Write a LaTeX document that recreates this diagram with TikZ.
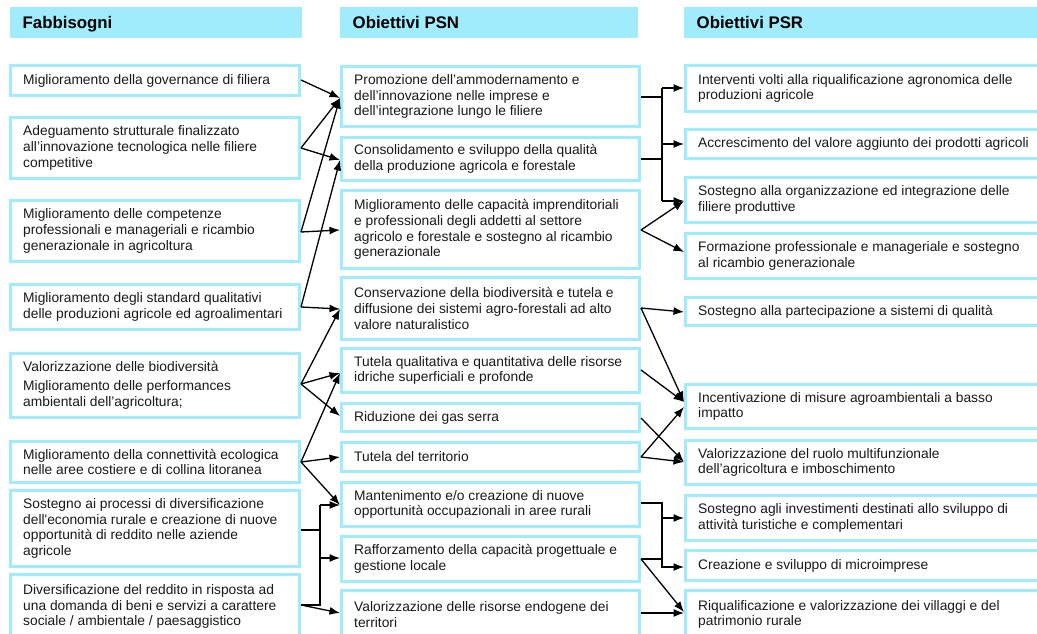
\documentclass[tikz,border=0pt]{standalone}
\usepackage{fontspec}
\setmainfont{Liberation Sans}
\usetikzlibrary{arrows.meta,calc}
\definecolor{cy}{RGB}{160,236,252}
\definecolor{tx}{RGB}{25,25,25}
\newcommand\mkbox[6]{%
  \node[box, minimum width={#4-#2-3}, minimum height={#5-#3-3}] (#1) at ({(#2+#4)/2},{(#3+#5)/2}) {};
  \node[txt] (#1t) at ([xshift=14pt]#1.west) {#6};
}
\newcommand\mkhdr[6]{%
  \node[hdr, minimum width={#4-#2}, minimum height={#5-#3}] (#1) at ({(#2+#4)/2},{(#3+#5)/2}) {};
  \node[htxt] (#1t) at ([xshift=12.5pt]#1.west |- 0,29) {#6};
}
\begin{document}
\begin{tikzpicture}[x=1pt,y=-1pt,
  box/.style={draw=cy, line width=3pt, fill=white, inner sep=0pt, rectangle},
  txt/.style={inner sep=0pt, align=left, anchor=west, text=tx, font=\fontsize{13.8}{15.8}\selectfont},
  hdr/.style={fill=cy, inner sep=0pt, outer sep=0pt, rectangle},
  htxt/.style={inner sep=0pt, anchor=base west, text=black, font=\fontsize{16.8}{20}\selectfont\bfseries},
  arr/.style={-{Latex[length=10.5pt,width=8pt]}, line width=1.3pt, black},
  ln/.style={line width=1.3pt, black, line join=miter}]
\useasboundingbox (0,0) rectangle (1037,634);
\clip (0,0) rectangle (1037,634);
\fill[white] (0,0) rectangle (1037,634);
% headers
\mkhdr{H1}{10}{7}{302}{38}{Fabbisogni}
\mkhdr{H2}{340}{7}{638}{38}{Obiettivi PSN}
\mkhdr{H3}{684}{7}{1045}{38}{Obiettivi PSR}
% Fabbisogni
\mkbox{F1}{9}{64}{301}{97}{Miglioramento della governance di filiera}
\mkbox{F2}{9}{116}{301}{180}{Adeguamento strutturale finalizzato\\all’innovazione tecnologica nelle filiere\\competitive}
\mkbox{F3}{9}{199}{301}{263}{Miglioramento delle competenze\\professionali e manageriali e ricambio\\generazionale in agricoltura}
\mkbox{F4}{9}{283}{301}{331}{Miglioramento degli standard qualitativi\\delle produzioni agricole ed agroalimentari}
\mkbox{F5}{9}{352}{301}{419}{Valorizzazione delle biodiversità\\[3.3pt]Miglioramento delle performances\\ambientali dell’agricoltura;}
\mkbox{F6}{9}{440}{301}{484}{Miglioramento della connettività ecologica\\nelle aree costiere e di collina litoranea}
\mkbox{F7}{9}{489}{301}{568}{Sostegno ai processi di diversificazione\\dell\textquotesingle economia rurale e creazione di nuove\\opportunità di reddito nelle aziende\\agricole}
\mkbox{F8}{9}{573}{301}{640}{Diversificazione del reddito in risposta ad\\una domanda di beni e servizi a carattere\\sociale / ambientale / paesaggistico}
% Obiettivi PSN
\mkbox{P1}{340}{65}{641}{128}{Promozione dell’ammodernamento e\\dell’innovazione nelle imprese e\\dell’integrazione lungo le filiere}
\mkbox{P2}{340}{136}{641}{182}{Consolidamento e sviluppo della qualità\\della produzione agricola e forestale}
\mkbox{P3}{340}{189}{641}{270}{Miglioramento delle capacità imprenditoriali\\e professionali degli addetti al settore\\agricolo e forestale e sostegno al ricambio\\generazionale}
\mkbox{P4}{340}{276}{641}{341}{Conservazione della biodiversità e tutela e\\diffusione dei sistemi agro-forestali ad alto\\valore naturalistico}
\mkbox{P5}{340}{347}{641}{394}{Tutela qualitativa e quantitativa delle risorse\\idriche superficiali e profonde}
\mkbox{P6}{340}{402}{641}{433}{Riduzione dei gas serra}
\mkbox{P7}{340}{441}{641}{473}{Tutela del territorio}
\mkbox{P8}{340}{481}{641}{528}{Mantenimento e/o creazione di nuove\\opportunità occupazionali in aree rurali}
\mkbox{P9}{340}{535}{641}{583}{Rafforzamento della capacità progettuale e\\gestione locale}
\mkbox{P10}{340}{589}{641}{640}{Valorizzazione delle risorse endogene dei\\territori}
% Obiettivi PSR
\mkbox{R1}{684}{64}{1045}{113}{Interventi volti alla riqualificazione agronomica delle\\produzioni agricole}
\mkbox{R2}{684}{128}{1045}{160}{Accrescimento del valore aggiunto dei prodotti agricoli}
\mkbox{R3}{684}{176}{1045}{224}{Sostegno alla organizzazione ed integrazione delle\\filiere produttive}
\mkbox{R4}{684}{232}{1045}{280}{Formazione professionale e manageriale e sostegno\\al ricambio generazionale}
\mkbox{R5}{684}{296}{1045}{327}{Sostegno alla partecipazione a sistemi di qualità}
\mkbox{R6}{684}{383}{1045}{430}{Incentivazione di misure agroambientali a basso\\impatto}
\mkbox{R7}{684}{439}{1045}{486}{Valorizzazione del ruolo multifunzionale\\dell’agricoltura e imboschimento}
\mkbox{R8}{684}{494}{1045}{542}{Sostegno agli investimenti destinati allo sviluppo di\\attività turistiche e complementari}
\mkbox{R9}{684}{549}{1045}{582}{Creazione e sviluppo di microimprese}
\mkbox{R10}{684}{589}{1045}{640}{Riqualificazione e valorizzazione dei villaggi e del\\patrimonio rurale}
% bus coordinates
\coordinate (bA1) at (320,505);
\coordinate (bA2) at (320,530);
\coordinate (bA3) at (320,558);
\coordinate (bA4) at (320,605);
\coordinate (bB1) at (662,88);
\coordinate (bB2) at (662,97);
\coordinate (bB3) at (662,144);
\coordinate (bB4) at (662,159);
\coordinate (bB5) at (662,201);
\coordinate (bC1) at (662,503);
\coordinate (bC2) at (662,518);
\coordinate (bC3) at (662,559);
\coordinate (bC4) at (662,567);
% Fabbisogni -> PSN
\draw[arr] (F1.east |- 0,80) -- (P1.west |- 0,98);
\draw[arr] (F2.east |- 0,148) -- (P1.west |- 0,98);
\draw[arr] (F2.east |- 0,148) -- (P2.west |- 0,160);
\draw[arr] (F3.east |- 0,232) -- (P1.west |- 0,98);
\draw[arr] (F3.east |- 0,232) -- (P3.west |- 0,230);
\draw[arr] (F4.east |- 0,307) -- (P2.west |- 0,160);
\draw[arr] (F4.east |- 0,307) -- (P4.west |- 0,309);
\draw[arr] (F5.east |- 0,384) -- (P4.west |- 0,309);
\draw[arr] (F5.east |- 0,384) -- (P5.west |- 0,373);
\draw[arr] (F5.east |- 0,384) -- (P6.west |- 0,416);
\draw[arr] (F6.east |- 0,462) -- (P5.west |- 0,373);
\draw[arr] (F6.east |- 0,462) -- (P7.west |- 0,457);
\draw[arr] (F6.east |- 0,462) -- (P8.west |- 0,505);
\draw[ln] (F7.east |- 0,530) -- (bA2);
\draw[ln] (bA1) -- (bA4) -- (F8.east |- 0,605);
\draw[arr] (bA1) -- (P8.west |- 0,505);
\draw[arr] (bA3) -- (P9.west |- 0,558);
\draw[arr] (F8.east |- 0,605) -- (P10.west |- 0,613);
% PSN -> PSR
\draw[ln] (P1.east |- 0,97) -- (bB2);
\draw[ln] (P2.east |- 0,159) -- (bB4);
\draw[ln] (bB1) -- (bB5);
\draw[arr] (bB1) -- (R1.west |- 0,88);
\draw[arr] (bB3) -- (R2.west |- 0,144);
\draw[arr] (bB5) -- (R3.west |- 0,201);
\draw[arr] (P3.east |- 0,230) -- (R3.west |- 0,201);
\draw[arr] (P3.east |- 0,230) -- (R4.west |- 0,252);
\draw[arr] (P4.east |- 0,308) -- (R5.west |- 0,312);
\draw[arr] (P4.east |- 0,308) -- (R6.west |- 0,402);
\draw[arr] (P5.east |- 0,370) -- (R6.west |- 0,402);
\draw[arr] (P6.east |- 0,418) -- (R7.west |- 0,462);
\draw[arr] (P7.east |- 0,457) -- (R6.west |- 0,407);
\draw[arr] (P7.east |- 0,457) -- (R7.west |- 0,462);
\draw[arr] (P8.east |- 0,503) -- (bC1) -- (bC4) -- (R9.west |- 0,567);
\draw[arr] (bC2) -- (R8.west |- 0,518);
\draw[ln] (P9.east |- 0,559) -- (bC3);
\draw[arr] (P9.east |- 0,559) -- (R10.west |- 0,612);
\draw[arr] (P10.east |- 0,613) -- (R10.west |- 0,613);
\end{tikzpicture}
\end{document}
